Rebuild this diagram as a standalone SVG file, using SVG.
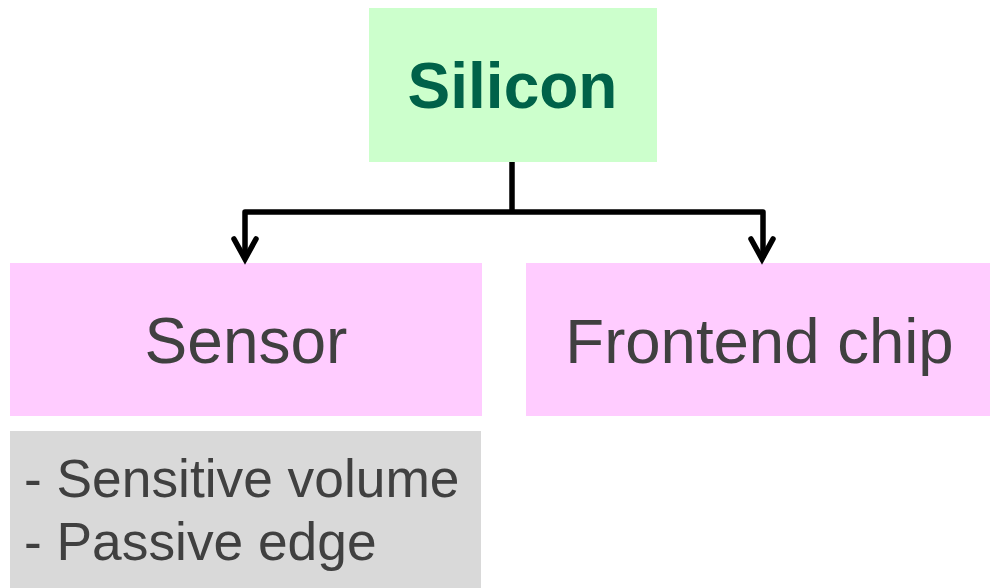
<svg xmlns="http://www.w3.org/2000/svg" width="990" height="588" viewBox="0 0 990 588">
  <defs>
    <style>
      .lbl { font-family: "Liberation Sans", Arial, sans-serif; fill: #404040; }
      .wire { fill: none; stroke: #000; stroke-width: 5.5; stroke-linejoin: round; stroke-linecap: butt; }
      .head { fill: none; stroke: #000; stroke-width: 5.5; stroke-linejoin: miter; stroke-linecap: round; }
    </style>
  </defs>
  <rect width="990" height="588" fill="#ffffff"/>

  <g id="silicon">
    <rect x="369" y="8" width="288" height="154" fill="#ccffcc"/>
    <text x="512.5" y="108" text-anchor="middle" font-family="Liberation Sans, Arial, sans-serif" font-weight="bold" font-size="64" fill="#006249">Silicon</text>
  </g>

  <g id="sensor">
    <rect x="10" y="263" width="472" height="153" fill="#ffccff"/>
    <text class="lbl" x="246" y="363" text-anchor="middle" font-size="64">Sensor</text>
  </g>

  <g id="frontend">
    <rect x="526" y="263" width="464" height="153" fill="#ffccff"/>
    <text class="lbl" x="759.5" y="363" text-anchor="middle" font-size="63.5">Frontend chip</text>
  </g>

  <g id="sensor-notes">
    <rect x="10" y="431" width="471" height="157" fill="#d9d9d9"/>
    <text class="lbl" x="24" y="497" font-size="53.3">- Sensitive volume</text>
    <text class="lbl" x="24" y="560" font-size="53.3">- Passive edge</text>
  </g>

  <g id="connectors">
    <path class="wire" d="M512 162 V212"/>
    <path class="wire" d="M245 258 V212 H763 V258"/>
    <path class="head" d="M234 239 L245 259 L256 239"/>
    <path class="head" d="M751 239 L762 259 L773 239"/>
  </g>
</svg>
